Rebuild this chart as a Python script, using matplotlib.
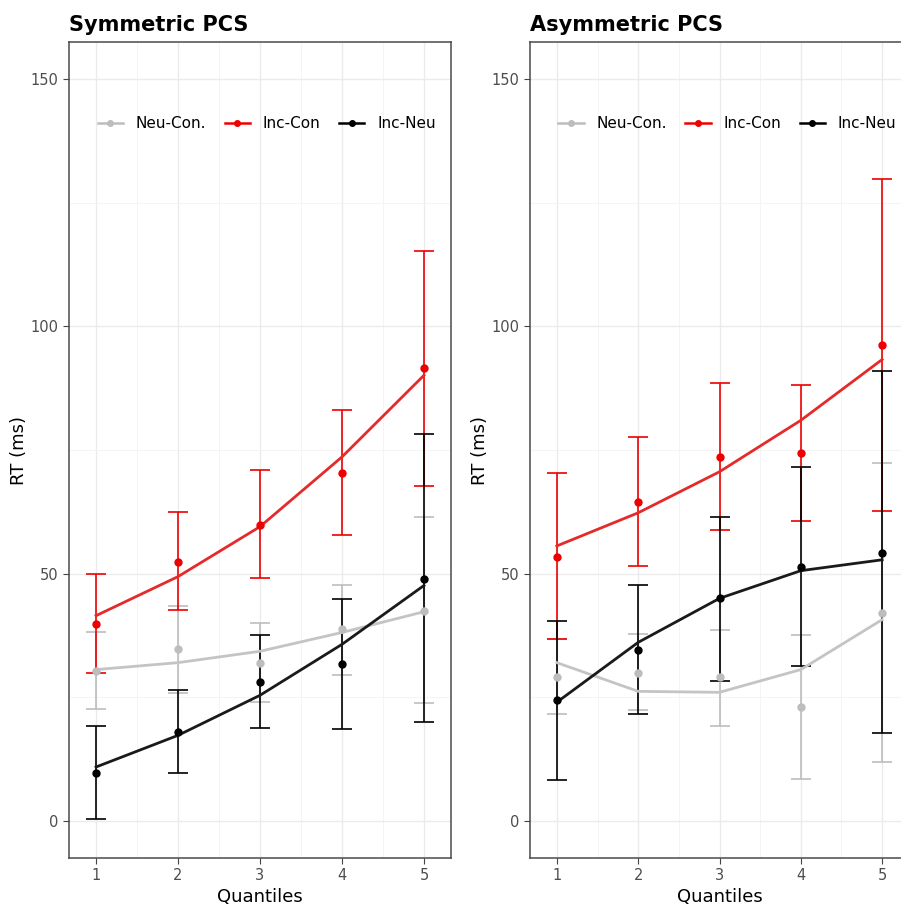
import matplotlib.pyplot as plt

q = [1, 2, 3, 4, 5]

# Symmetric PCS
sym_nc = [30.3, 34.7, 32.0, 38.9, 42.5]
sym_nc_lo = [22.6, 25.8, 24.0, 29.6, 23.8]
sym_nc_hi = [38.1, 43.5, 40.1, 47.8, 61.5]
sym_nc_fit = [30.6, 32.0, 34.3, 38.1, 42.3]

sym_ic = [39.9, 52.4, 59.9, 70.4, 91.5]
sym_ic_lo = [30.0, 42.7, 49.2, 57.9, 67.7]
sym_ic_hi = [50.0, 62.5, 71.0, 83.1, 115.3]
sym_ic_fit = [41.5, 49.4, 59.5, 73.6, 90.1]

sym_in = [9.7, 17.9, 28.0, 31.7, 49.0]
sym_in_lo = [0.4, 9.7, 18.8, 18.6, 20.0]
sym_in_hi = [19.2, 26.4, 37.5, 44.8, 78.2]
sym_in_fit = [10.9, 17.3, 25.4, 35.7, 47.6]

# Asymmetric PCS
asy_nc = [29.2, 30.0, 29.0, 23.0, 42.1]
asy_nc_lo = [21.6, 22.4, 19.2, 8.5, 11.9]
asy_nc_hi = [36.8, 37.7, 38.7, 37.5, 72.4]
asy_nc_fit = [32.0, 26.2, 26.0, 30.6, 40.7]

asy_ic = [53.4, 64.5, 73.6, 74.4, 96.2]
asy_ic_lo = [36.7, 51.6, 58.9, 60.7, 62.7]
asy_ic_hi = [70.4, 77.6, 88.5, 88.1, 129.8]
asy_ic_fit = [55.6, 62.3, 70.6, 81.0, 93.3]

asy_in = [24.4, 34.5, 45.0, 51.4, 54.2]
asy_in_lo = [8.3, 21.6, 28.2, 31.3, 17.7]
asy_in_hi = [40.5, 47.8, 61.5, 71.6, 90.9]
asy_in_fit = [24.0, 36.1, 45.0, 50.6, 52.8]

labels = ['Neu-Con.', 'Inc-Con', 'Inc-Neu']
pt_cols = ['#bdbdbd', '#ee0000', '#000000']
ln_cols = ['#c4c4c4', '#e52a2a', '#1a1a1a']

panels = [
    ('Symmetric PCS',
     [(sym_nc, sym_nc_lo, sym_nc_hi, sym_nc_fit),
      (sym_ic, sym_ic_lo, sym_ic_hi, sym_ic_fit),
      (sym_in, sym_in_lo, sym_in_hi, sym_in_fit)]),
    ('Asymmetric PCS',
     [(asy_nc, asy_nc_lo, asy_nc_hi, asy_nc_fit),
      (asy_ic, asy_ic_lo, asy_ic_hi, asy_ic_fit),
      (asy_in, asy_in_lo, asy_in_hi, asy_in_fit)]),
]

W, H = 901, 913
fig = plt.figure(figsize=(W / 100, H / 100), dpi=100)

# right panel runs off the right edge, as in the original crop
boxes = [(69, 382), (530, 379)]
for i, ((title, series), (left, width)) in enumerate(zip(panels, boxes)):
    ax = fig.add_axes([left / W, (H - 858) / H, width / W, 816 / H])
    for (m, lo, hi, fit), lab, pc, lc in zip(series, labels, pt_cols, ln_cols):
        err = [[a - b for a, b in zip(m, lo)], [b - a for a, b in zip(m, hi)]]
        ax.errorbar(q, m, yerr=err, fmt='none', ecolor=pc, elinewidth=1.2,
                    capsize=7.5, capthick=1.2, zorder=3)
        ax.plot(q, fit, color=lc, lw=2.0, zorder=4)
        ax.plot(q, m, 'o', color=pc, ms=5, zorder=5)
        ax.plot([], [], '-o', color=pc, lw=1.8, ms=4, label=lab)

    ax.set_xlim(0.67, 5.33)
    ax.set_ylim(-7.5, 157.5)
    ax.set_xticks(q)
    ax.set_yticks([0, 50, 100, 150])
    ax.set_xticks([1.5, 2.5, 3.5, 4.5], minor=True)
    ax.set_yticks([25, 75, 125], minor=True)
    ax.grid(True, which='major', color='#ebebeb', lw=1.0)
    ax.grid(True, which='minor', color='#f4f4f4', lw=0.7)
    ax.set_axisbelow(True)
    ax.tick_params(which='major', length=4, color='#444444',
                   labelcolor='#4d4d4d', labelsize=10.5)
    ax.tick_params(which='minor', length=0)
    for s in ax.spines.values():
        s.set_color('#4a4a4a')
        s.set_linewidth(1.1)
    if i == 1:
        ax.spines['right'].set_visible(False)
    ax.set_xlabel('Quantiles', fontsize=13, labelpad=3)
    ax.set_ylabel('RT (ms)', fontsize=13, labelpad=2)
    ax.set_title(title, loc='left', fontsize=15, fontweight='bold', pad=8)
    ax.legend(loc='center left', bbox_to_anchor=(0.075, 0.9), ncol=3,
              frameon=False, fontsize=11, handlelength=1.65,
              columnspacing=1.2, handletextpad=0.85, borderaxespad=0,
              borderpad=0)

fig.savefig('out.png', dpi=100)
